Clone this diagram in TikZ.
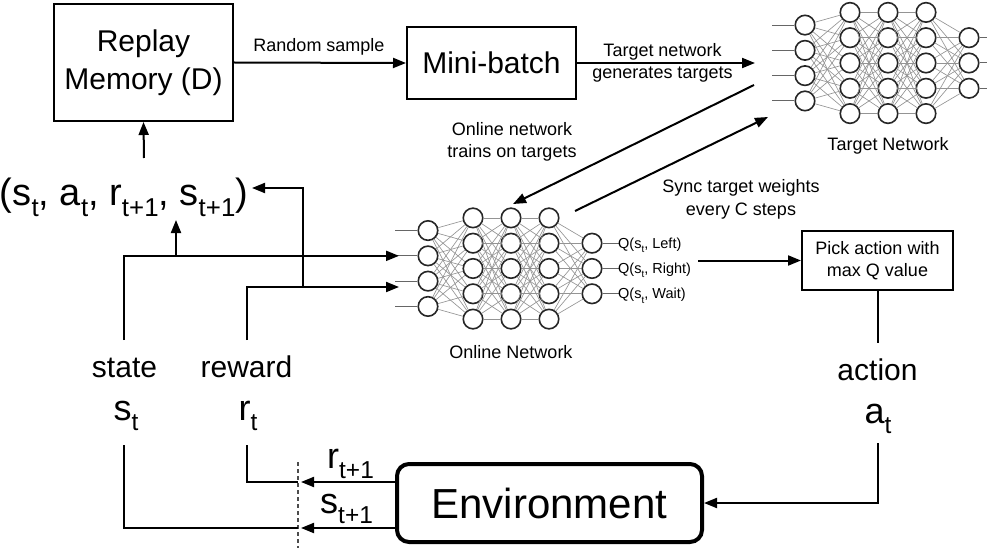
\documentclass[tikz,border=0pt]{standalone}
\usepackage{fontspec}
\setmainfont{Liberation Sans}
\usetikzlibrary{arrows.meta,calc}

% lowered, smaller subscript as used in the labels
\newcommand{\lsub}[1]{\raisebox{-0.3em}{\scalebox{0.68}{#1}}}

\begin{document}
\begin{tikzpicture}[x=1pt,y=-1pt,
  conn/.style={line width=2pt, draw=black},
  arr/.style={conn, -{Triangle[length=13pt,width=10pt]}},
  box/.style={draw, line width=2pt, inner sep=0pt, align=center,
    font=\fontsize{30}{38}\selectfont},
  lab/.style={inner sep=0pt, font=\fontsize{18}{22}\selectfont},
  qlab/.style={inner sep=0pt, font=\fontsize{14.5}{16}\selectfont, anchor=base west},
  big/.style={inner sep=0pt, anchor=base, font=\fontsize{30}{36}\selectfont},
  bigs/.style={inner sep=0pt, anchor=base, font=\fontsize{36}{40}\selectfont},
  neuron/.style={circle, draw=black!85, line width=1.6pt, fill=white,
    minimum size=19.5pt, inner sep=0pt},
  edge/.style={draw=black!42, line width=0.65pt},
  stub/.style={draw=black!60, line width=1pt}]

\useasboundingbox (0,0) rectangle (987,548);

% ---------- boxes ----------
\node[box, minimum width=179pt, minimum height=117pt] (rep) at (143.5,62.5)
  {Replay\\Memory (D)};
\node[box, minimum width=169pt, minimum height=72pt] (mb) at (491.5,63)
  {Mini-batch};
\node[box, minimum width=151pt, minimum height=59pt,
  font=\fontsize{18}{22}\selectfont] (pick) at (877.5,260.5)
  {Pick action with\\max Q value};
\node[draw, line width=4pt, rounded corners=12pt, inner sep=0pt,
  minimum width=305pt, minimum height=78pt,
  font=\fontsize{42}{46}\selectfont] (env) at (549.5,503) {Environment};

% ---------- neural networks ----------
\foreach \net/\dx/\cy in {on/0/268.5, tg/377/63}{
  \foreach \l/\x/\n in {1/428/4, 2/473/5, 3/511/5, 4/549/5, 5/592/3}{
    \foreach \i in {1,...,\n}{
      \node[neuron] (\net-\l-\i) at ({\x+\dx},{\cy+(\i-(\n+1)/2)*25.3}) {};
    }
  }
  \foreach \l/\m/\na/\nb in {1/2/4/5, 2/3/5/5, 3/4/5/5, 4/5/5/3}{
    \foreach \i in {1,...,\na}{
      \foreach \j in {1,...,\nb}{
        \draw[edge] (\net-\l-\i) -- (\net-\m-\j);
      }
    }
  }
  \foreach \i in {1,...,4}{
    \draw[stub] ($(\net-1-\i.west)+(-22,0)$) -- (\net-1-\i.west);
  }
}
\foreach \i in {1,2,3}{
  \draw[stub] (on-5-\i.east) -- ++(16,0);
  \draw[stub] (tg-5-\i.east) -- (987,0 |- tg-5-\i);
}
\node[lab, anchor=base] (onlab) at (511,358) {Online Network};
\node[lab, anchor=base] (tglab) at (888,151) {Target Network};

\node[qlab] (q1) at ($(on-5-1)+(26,5)$) {Q(s\lsub{t}, Left)};
\node[qlab] (q2) at ($(on-5-2)+(26,5)$) {Q(s\lsub{t}, Right)};
\node[qlab] (q3) at ($(on-5-3)+(26,5)$) {Q(s\lsub{t}, Wait)};

% ---------- replay path ----------
\node[inner sep=0pt, anchor=base, font=\fontsize{38}{40}\selectfont] (tuple)
  at (124,205) {(s\lsub{t}, a\lsub{t}, r\lsub{t+1}, s\lsub{t+1})};
\coordinate (tupup) at (144,158);
\draw[arr] (tupup) -- (rep.south);

\draw[arr] (rep.east) -- (mb.west);
\node[lab, anchor=base] (rslab) at (319,52) {Random sample};

\coordinate (tgin) at (755,63);
\draw[arr] (mb.east) -- (tgin);
\node[lab, anchor=base] (tnlab1) at (662.5,57) {Target network};
\node[lab, anchor=base] (tnlab2) at (662.5,79) {generates targets};

\coordinate (trA) at (754,85);
\coordinate (trB) at (513,204);
\draw[arr] (trA) -- (trB);
\node[lab, anchor=base] (otlab1) at (512,136) {Online network};
\node[lab, anchor=base] (otlab2) at (512,158) {trains on targets};

\coordinate (syA) at (575,211);
\coordinate (syB) at (768,117);
\draw[arr] (syA) -- (syB);
\node[lab, anchor=base] (sylab1) at (741,193) {Sync target weights};
\node[lab, anchor=base] (sylab2) at (741,215) {every C steps};

% ---------- action path ----------
\coordinate (qout) at (698,260.5);
\draw[arr] (qout) -- (pick.west);
\coordinate (actop) at (877.5,343);
\draw[conn] (pick.south) -- (actop);
\node[big] (action) at (877.5,380) {action};
\node[bigs] (at) at (878,423) {a\lsub{t}};
\coordinate (acbot) at (877.5,443);
\draw[arr] (acbot) |- (env.east);

% ---------- state and reward ----------
\node[big] (state) at (124.5,377) {state};
\node[bigs] (st) at (126,420) {s\lsub{t}};
\node[big] (reward) at (246.5,377) {reward};
\node[bigs] (rt) at (248,420) {r\lsub{t}};

\coordinate (sttop) at (124,340);
\coordinate (onin2) at ($(on-1-2)+(-29,0)$);
\draw[arr] (sttop) |- (onin2);
\coordinate (tupbr) at (176,0 |- onin2);
\coordinate (tupbrtop) at (176,220);
\draw[arr] (tupbr) -- (tupbrtop);

\coordinate (rwtop) at (247,340);
\coordinate (onin3) at (399,287);
\draw[arr] (rwtop) |- (onin3);
\coordinate (rwbr) at (303,287);
\coordinate (tupR) at (252,188);
\draw[arr] (rwbr) |- (tupR);

% ---------- environment feedback ----------
\coordinate (cutTop) at (298,462);
\coordinate (cutBot) at (298,548);
\draw[line width=1.2pt, draw=black!70, dash pattern=on 4pt off 3pt] (cutTop) -- (cutBot);

\coordinate (rin) at (301,482);
\coordinate (sin) at (301,528);
\draw[arr] (env.west |- rin) -- (rin);
\draw[arr] (env.west |- sin) -- (sin);
\node[bigs, anchor=base west] (rnext) at (327,468) {r\lsub{t+1}};
\node[bigs, anchor=base west] (snext) at (320,513) {s\lsub{t+1}};

\coordinate (cutr) at (298,482);
\coordinate (cuts) at (298,528);
\coordinate (rwbot) at (247,445);
\coordinate (stbot) at (124,445);
\draw[conn] (rwbot) |- (cutr);
\draw[conn] (stbot) |- (cuts);

\end{tikzpicture}
\end{document}
